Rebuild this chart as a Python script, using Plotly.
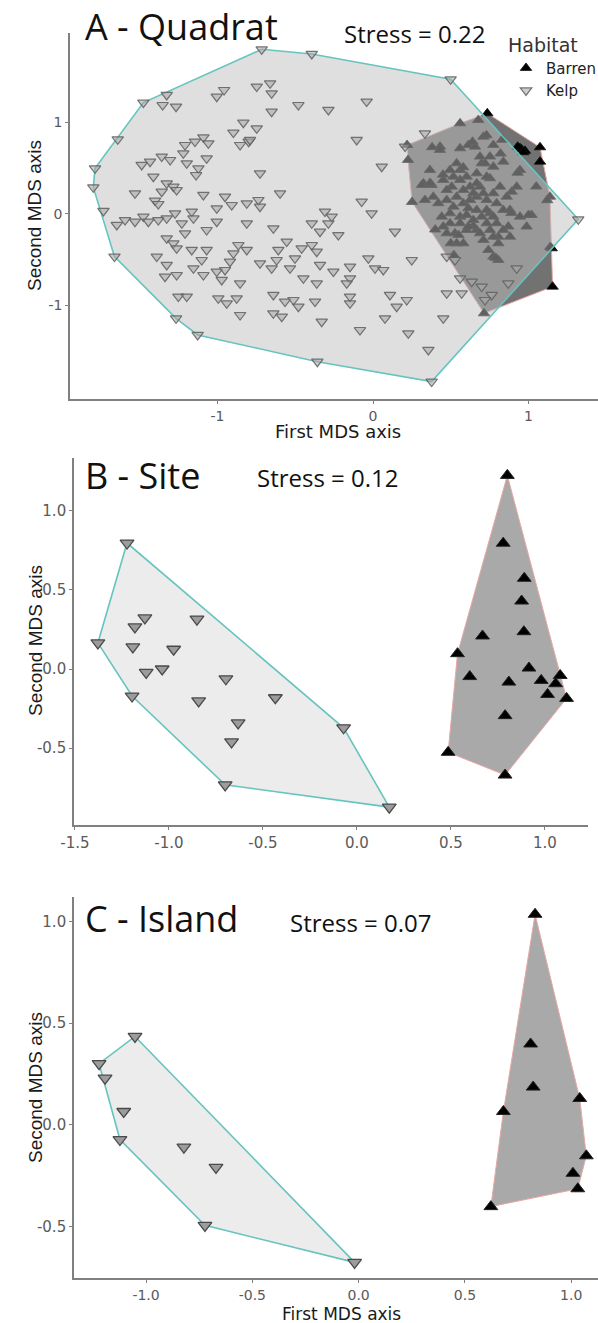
import plotly.graph_objects as go

W, H = 598, 1323

# ---------------- data (first / second MDS axis) ----------------
habitats = ["Barren", "Kelp"]
panel_titles = ["A - Quadrat", "B - Site", "C - Island"]
stress_labels = ["Stress = 0.22", "Stress = 0.12", "Stress = 0.07"]

kelp_quadrat = [
    (-1.477, 1.217), (-1.327, 1.301), (-1.642, 0.816), (-1.788, 0.499), (-1.799, 0.291),
    (-1.734, 0.033), (-1.663, -0.466), (-1.267, -1.140), (-1.128, -1.322), (-0.716, 1.800),
    (-0.394, 1.749), (-0.358, -1.614), (0.499, 1.472), (1.320, -0.058), (0.377, -1.832),
    (-1.353, 1.191), (-1.267, 1.173), (-1.005, 1.282), (-0.958, 1.355), (-0.834, 0.998),
    (-0.898, 0.889), (-0.855, 0.754), (-0.800, 0.790), (-1.209, 0.754), (-1.145, 0.791),
    (-1.091, 0.838), (-1.059, 0.772), (-1.220, 0.663), (-1.488, 0.536), (-1.434, 0.572),
    (-1.359, 0.627), (-1.305, 0.590), (-1.198, 0.554), (-1.123, 0.499), (-1.070, 0.608),
    (-1.138, 0.426), (-1.413, 0.408), (-1.327, 0.335), (-1.284, 0.299), (-1.359, 0.244),
    (-1.263, 0.262), (-1.531, 0.226), (-1.402, 0.146), (-1.381, 0.109), (-1.091, 0.208),
    (-0.952, 0.189), (-0.909, 0.098), (-1.005, 0.062), (-0.812, 0.117), (-1.648, -0.120),
    (-1.595, -0.066), (-1.531, -0.084), (-1.477, -0.029), (-1.445, -0.084), (-1.381, -0.066),
    (-1.327, -0.047), (-1.273, 0.007), (-1.230, -0.102), (-1.166, 0.026), (-1.155, -0.047),
    (-1.209, -0.211), (-1.070, -0.175), (-1.005, -0.084), (-0.812, -0.102), (-1.327, -0.266),
    (-1.284, -0.321), (-1.263, -0.375), (-1.166, -0.393), (-1.070, -0.393), (-1.102, -0.503),
    (-0.866, -0.339), (-0.812, -0.393), (-0.898, -0.430), (-0.920, -0.521), (-1.391, -0.466),
    (-1.327, -0.557), (-1.338, -0.685), (-1.263, -0.667), (-1.155, -0.594), (-1.091, -0.667),
    (-1.005, -0.630), (-0.952, -0.612), (-0.973, -0.721), (-0.855, -0.758), (-1.252, -0.903),
    (-1.198, -0.903), (-0.995, -0.922), (-0.941, -0.976), (-0.877, -0.922), (-0.855, -1.104),
    (-0.748, 1.392), (-0.662, 1.428), (-0.652, 1.319), (-0.652, 1.118), (-0.480, 1.191),
    (-0.287, 1.137), (-0.041, 1.228), (-0.748, 0.936), (-0.791, 0.809), (-0.105, 0.809),
    (0.056, 0.517), (0.206, 0.736), (-0.727, 0.444), (-0.598, 0.226), (-0.737, 0.153),
    (-0.727, 0.080), (-0.073, 0.135), (-0.009, 0.007), (-0.309, 0.026), (-0.266, -0.029),
    (-0.287, -0.102), (-0.394, -0.102), (-0.341, -0.193), (-0.223, -0.230), (-0.641, -0.157),
    (0.141, -0.193), (-0.555, -0.302), (-0.609, -0.393), (-0.459, -0.375), (-0.394, -0.339),
    (-0.362, -0.412), (-0.502, -0.485), (-0.620, -0.503), (-0.727, -0.539), (-0.652, -0.594),
    (-0.534, -0.594), (-0.341, -0.557), (-0.255, -0.630), (-0.148, -0.576), (-0.148, -0.703),
    (-0.169, -0.758), (-0.030, -0.485), (0.013, -0.594), (0.066, -0.612), (-0.448, -0.703),
    (-0.362, -0.758), (-0.641, -0.885), (-0.566, -0.958), (-0.512, -0.940), (-0.480, -1.013),
    (-0.373, -0.958), (-0.641, -1.086), (-0.587, -1.122), (-0.330, -1.177), (-0.148, -0.903),
    (-0.148, -0.976), (0.109, -0.885), (0.152, -1.013), (0.217, -0.940), (0.077, -1.140),
    (-0.084, -1.268), (0.227, -1.304), (0.249, -0.503), (0.334, 0.882), (0.474, -0.466),
    (0.527, -0.503), (0.560, -0.703), (0.635, -0.740), (0.699, -0.794), (0.763, -0.885),
    (0.720, -0.940), (0.474, -0.867), (0.570, -0.867), (0.452, -1.140), (0.356, -1.486),
    (0.924, -0.594), (0.870, -0.758),
]

barren_quadrat = [
    (0.735, 1.100), (0.560, 0.991), (0.219, 0.754), (0.225, 0.590), (0.251, 0.131),
    (0.714, -1.086), (1.155, -0.794), (1.149, -0.375), (1.138, 0.189), (1.074, 0.572),
    (1.074, 0.729), (0.945, 0.720), (0.956, 0.705), (0.930, 0.735), (0.977, 0.690),
    (0.966, 0.675), (0.677, 1.027), (0.431, 0.736), (0.560, 0.718), (0.613, 0.754),
    (0.656, 0.736), (0.710, 0.845), (0.774, 0.754), (0.838, 0.572), (0.945, 0.481),
    (0.699, 0.554), (0.752, 0.390), (0.667, 0.444), (0.560, 0.481), (0.538, 0.554),
    (0.324, 0.335), (0.377, 0.317), (0.334, 0.153), (0.452, 0.372), (0.506, 0.299),
    (0.602, 0.408), (0.624, 0.299), (0.688, 0.299), (0.774, 0.226), (0.817, 0.299),
    (0.860, 0.189), (0.892, 0.244), (0.924, 0.299), (0.420, 0.117), (0.474, 0.153),
    (0.538, 0.189), (0.581, 0.117), (0.624, 0.153), (0.667, 0.189), (0.731, 0.153),
    (0.795, 0.117), (0.838, 0.044), (0.881, 0.044), (0.945, -0.029), (1.020, -0.011),
    (0.988, -0.138), (0.442, -0.029), (0.495, 0.007), (0.560, -0.029), (0.602, -0.011),
    (0.645, -0.066), (0.699, -0.029), (0.752, 0.007), (0.795, -0.102), (0.752, -0.175),
    (0.806, -0.248), (0.870, -0.138), (0.474, -0.211), (0.527, -0.211), (0.602, -0.175),
    (0.667, -0.175), (0.710, -0.284), (0.538, -0.321), (0.581, -0.321), (0.742, -0.393),
    (0.774, -0.466), (0.806, -0.503), (0.560, 0.372), (0.581, 0.262), (0.645, 0.226),
    (0.710, 0.226), (0.517, 0.080), (0.613, 0.062), (0.667, 0.044), (0.731, 0.044),
    (0.774, -0.029), (0.645, -0.130), (0.688, -0.211), (0.731, -0.102), (0.495, -0.102),
    (0.452, -0.138), (0.560, -0.102), (0.613, -0.138), (0.774, -0.248), (0.806, -0.321),
    (0.838, -0.175), (0.881, -0.248), (0.688, 0.627), (0.720, 0.554), (0.752, 0.627),
    (0.774, 0.517), (0.667, 0.335), (0.731, 0.408), (0.517, 0.408), (0.474, 0.262),
    (0.388, 0.189), (0.366, 0.481), (0.380, 0.730), (0.430, 0.700), (0.315, 0.317),
    (0.367, 0.340), (0.450, 0.430), (0.495, 0.480), (0.580, 0.510), (0.640, 0.790),
    (0.730, 0.860), (0.830, 0.810), (0.930, 0.450), (1.050, 0.300), (1.120, 0.150),
    (0.820, 0.660), (0.400, -0.170), (0.500, -0.320), (0.550, -0.230), (0.520, -0.450),
    (0.790, -0.480), (0.890, 0.010), (1.000, -0.010), (1.140, -0.360),
]

kelp_site = [
    (-1.223, 0.797), (-1.378, 0.165), (-1.181, 0.266), (-1.128, 0.323), (-0.851, 0.316),
    (-1.192, 0.140), (-0.975, 0.125), (-1.121, -0.021), (-1.036, 0.000), (-1.196, -0.171),
    (-0.697, -0.062), (-0.842, -0.202), (-0.434, -0.182), (-0.632, -0.341), (-0.667, -0.461),
    (-0.071, -0.372), (-0.701, -0.733), (0.172, -0.874),
]

barren_site = [
    (0.800, 1.225), (0.778, 0.796), (0.890, 0.574), (0.876, 0.430), (0.668, 0.209),
    (0.888, 0.236), (0.535, 0.097), (0.600, -0.048), (0.915, 0.006), (0.808, -0.083),
    (0.980, -0.072), (1.081, -0.041), (1.057, -0.093), (1.014, -0.161), (1.115, -0.186),
    (0.788, -0.295), (0.485, -0.527), (0.788, -0.671),
]

kelp_island = [
    (-1.052, 0.434), (-1.221, 0.300), (-1.193, 0.229), (-1.105, 0.065), (-1.123, -0.073),
    (-0.822, -0.110), (-0.671, -0.210), (-0.723, -0.495), (-0.019, -0.677),
]

barren_island = [
    (0.830, 1.035), (0.809, 0.397), (0.821, 0.185), (1.040, 0.129), (0.681, 0.065),
    (1.071, -0.153), (1.008, -0.239), (1.031, -0.315), (0.622, -0.403),
]

# axis ticks
ticks_a = [-1, 0, 1]
tick_text_a = ["-1", "0", "1"]
ticks_b_x = [-1.5, -1.0, -0.5, 0.0, 0.5, 1.0]
tick_text_b_x = ["-1.5", "-1.0", "-0.5", "0.0", "0.5", "1.0"]
ticks_bc_y = [-0.5, 0.0, 0.5, 1.0]
tick_text_bc_y = ["-0.5", "0.0", "0.5", "1.0"]
ticks_c_x = [-1.0, -0.5, 0.0, 0.5, 1.0]
tick_text_c_x = ["-1.0", "-0.5", "0.0", "0.5", "1.0"]


def convex_hull(points):
    pts = sorted(set(points))

    def cross(o, a, b):
        return (a[0] - o[0]) * (b[1] - o[1]) - (a[1] - o[1]) * (b[0] - o[0])

    lower, upper = [], []
    for p in pts:
        while len(lower) >= 2 and cross(lower[-2], lower[-1], p) <= 0:
            lower.pop()
        lower.append(p)
    for p in reversed(pts):
        while len(upper) >= 2 and cross(upper[-2], upper[-1], p) <= 0:
            upper.pop()
        upper.append(p)
    h = lower[:-1] + upper[:-1]
    return h + [h[0]]


def xs(pts):
    return [p[0] for p in pts]


def ys(pts):
    return [p[1] for p in pts]


TEAL = "#66c4be"
PINK = "#e9a7a4"

fig = go.Figure()


def add_hull(pts, xa, ya, fill, line_color, line_width):
    h = convex_hull(pts)
    fig.add_trace(go.Scatter(
        x=xs(h), y=ys(h), mode="lines", fill="toself", fillcolor=fill,
        line=dict(color=line_color, width=line_width), xaxis=xa, yaxis=ya,
        showlegend=False, hoverinfo="skip"))


def add_points(pts, xa, ya, symbol, size, color, lcolor, lwidth, name, legend):
    fig.add_trace(go.Scatter(
        x=xs(pts), y=ys(pts), mode="markers", name=name, showlegend=legend,
        marker=dict(symbol=symbol, size=size, color=color,
                    line=dict(color=lcolor, width=lwidth)),
        xaxis=xa, yaxis=ya))


# Panel A
add_hull(barren_quadrat, "x", "y", "#727272", PINK, 1)
add_points(barren_quadrat, "x", "y", "triangle-up", 10, "#000000", "#111111", 0.8,
           habitats[0], True)
add_hull(kelp_quadrat, "x", "y", "rgba(192,192,192,0.5)", TEAL, 1.6)
add_points(kelp_quadrat, "x", "y", "triangle-down", 10, "rgba(165,165,165,0.55)",
           "rgba(95,95,95,0.85)", 1.2, habitats[1], True)

# Panel B
add_hull(kelp_site, "x2", "y2", "#ececec", TEAL, 1.6)
add_hull(barren_site, "x2", "y2", "#a9a9a9", PINK, 1)
add_points(kelp_site, "x2", "y2", "triangle-down", 12, "#9c9c9c", "#4a4a4a", 1.3,
           habitats[1], False)
add_points(barren_site, "x2", "y2", "triangle-up", 12, "#000000", "#222222", 1,
           habitats[0], False)

# Panel C
add_hull(kelp_island, "x3", "y3", "#ececec", TEAL, 1.6)
add_hull(barren_island, "x3", "y3", "#a9a9a9", PINK, 1)
add_points(kelp_island, "x3", "y3", "triangle-down", 12, "#9c9c9c", "#4a4a4a", 1.3,
           habitats[1], False)
add_points(barren_island, "x3", "y3", "triangle-up", 12, "#000000", "#222222", 1,
           habitats[0], False)


def px_x(p):
    return p / W


def px_y(p):
    return 1 - p / H


AX_COLOR = "#808080"
TICK_FONT = "DejaVu Sans"


def axis_style(tickvals, ticktext, fsize):
    return dict(showline=True, linecolor=AX_COLOR, linewidth=1.6, ticks="outside",
                ticklen=3, tickwidth=1.2, tickcolor=AX_COLOR, showgrid=False,
                zeroline=False, tickvals=tickvals, ticktext=ticktext, automargin=False,
                tickfont=dict(family=TICK_FONT, size=fsize, color="#5a5a5a"))


fig.update_layout(
    width=W, height=H, margin=dict(l=0, r=0, t=0, b=0, pad=0, autoexpand=False),
    paper_bgcolor="white", plot_bgcolor="white",
    xaxis=dict(domain=[px_x(70), 1.0], range=[-1.949, 1.447], anchor="y",
               **axis_style(ticks_a, tick_text_a, 14)),
    yaxis=dict(domain=[px_y(399), px_y(33)], range=[-2.022, 1.978], anchor="x",
               **axis_style(ticks_a, tick_text_a, 14)),
    xaxis2=dict(domain=[px_x(74), px_x(588)], range=[-1.505, 1.229], anchor="y2",
                **axis_style(ticks_b_x, tick_text_b_x, 15)),
    yaxis2=dict(domain=[px_y(825), px_y(458)], range=[-0.987, 1.335], anchor="x2",
                **axis_style(ticks_bc_y, tick_text_bc_y, 15)),
    xaxis3=dict(domain=[px_x(74), 1.0], range=[-1.339, 1.126], anchor="y3",
                **axis_style(ticks_c_x, tick_text_c_x, 14)),
    yaxis3=dict(domain=[px_y(1278), px_y(897)], range=[-0.754, 1.120], anchor="x3",
                **axis_style(ticks_bc_y, tick_text_bc_y, 15)),
    legend=dict(x=px_x(506), y=px_y(27), xanchor="left", yanchor="top",
                bgcolor="rgba(0,0,0,0)", tracegroupgap=0,
                title=dict(text="Habitat", font=dict(family="DejaVu Sans", size=19,
                                                     color="#333333")),
                font=dict(family="DejaVu Sans", size=15, color="#222222")),
)

annos = []
title_pos = [(83, 26), (83, 475), (83, 918)]
for t, (x0, y0) in zip(panel_titles, title_pos):
    annos.append(dict(text=t, x=px_x(x0), y=px_y(y0), xref="paper", yref="paper",
                      xanchor="left", yanchor="middle", showarrow=False,
                      font=dict(family="Open Sans", size=36, color="#111111")))
stress_pos = [(342, 34), (255, 478), (288, 922)]
for t, (x0, y0) in zip(stress_labels, stress_pos):
    annos.append(dict(text=t, x=px_x(x0), y=px_y(y0), xref="paper", yref="paper",
                      xanchor="left", yanchor="middle", showarrow=False,
                      font=dict(family="Open Sans", size=24, color="#111111")))
for y0 in (216, 641, 1088):
    annos.append(dict(text="Second MDS axis", x=px_x(35), y=px_y(y0), xref="paper",
                      yref="paper", xanchor="center", yanchor="middle", textangle=-90,
                      showarrow=False,
                      font=dict(family="Liberation Sans", size=19, color="#1a1a1a")))
for x0, y0, fs in ((338, 432, 18), (342, 1313.5, 17)):
    annos.append(dict(text="First MDS axis", x=px_x(x0), y=px_y(y0), xref="paper",
                      yref="paper", xanchor="center", yanchor="middle", showarrow=False,
                      font=dict(family="DejaVu Sans", size=fs, color="#1a1a1a")))
fig.update_layout(annotations=annos)

fig.write_html("out.html", config={"displayModeBar": False},
               post_script="document.body.style.margin='0px';"
                           "document.body.style.overflow='hidden';")

# make the page itself margin-free so the figure sits at the window's top-left corner
with open("out.html", "r", encoding="utf-8") as f:
    page = f.read()
page = page.replace("<body>", '<body style="margin:0;padding:0;overflow:hidden">', 1)
page = page.replace("<head>", "<head><style>html,body{margin:0;padding:0;}</style>", 1)
with open("out.html", "w", encoding="utf-8") as f:
    f.write(page)
